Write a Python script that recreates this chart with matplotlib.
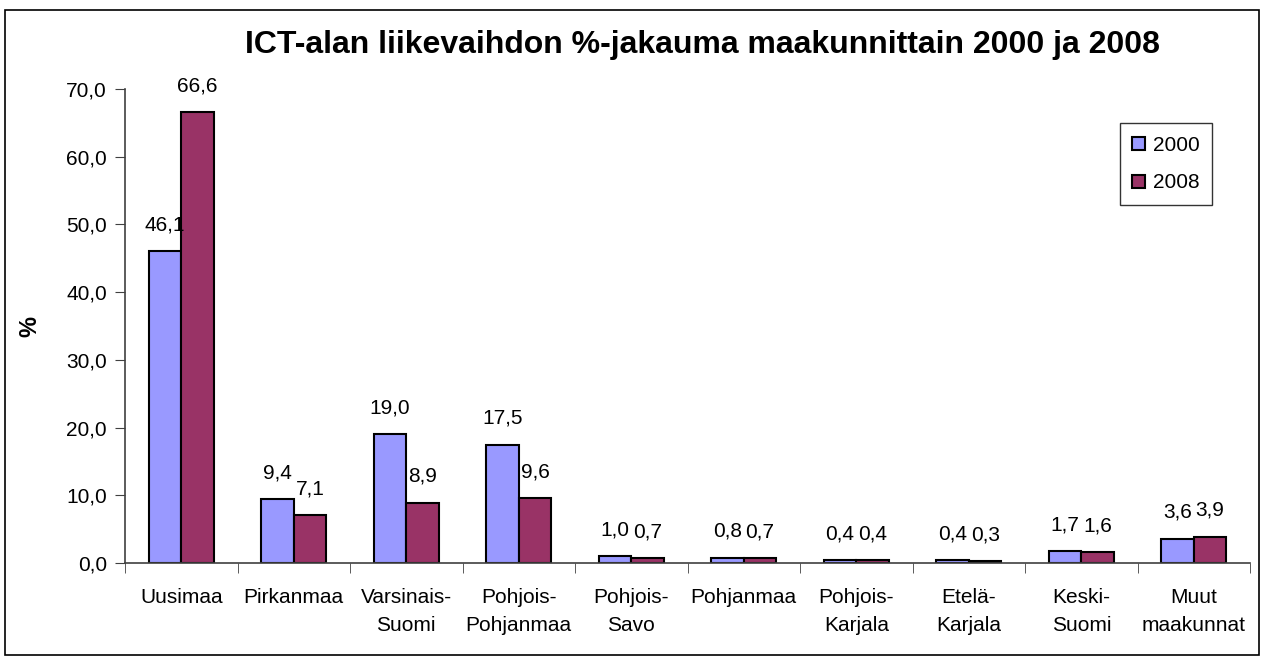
import numpy as np
import matplotlib
matplotlib.use('Agg')
from matplotlib import pyplot as plt
from matplotlib.patches import Rectangle

# data
regions = ['Uusimaa', 'Pirkanmaa', 'Varsinais-\nSuomi', 'Pohjois-\nPohjanmaa',
           'Pohjois-\nSavo', 'Pohjanmaa', 'Pohjois-\nKarjala', 'Etelä-\nKarjala',
           'Keski-\nSuomi', 'Muut\nmaakunnat']
share_2000 = [46.1, 9.4, 19.0, 17.5, 1.0, 0.8, 0.4, 0.4, 1.7, 3.6]
share_2008 = [66.6, 7.1, 8.9, 9.6, 0.7, 0.7, 0.4, 0.3, 1.6, 3.9]
years = ['2000', '2008']

plt.rcParams['font.family'] = ['Liberation Sans', 'DejaVu Sans']

fig = plt.figure(figsize=(12.64, 6.6), dpi=100, facecolor='w')
ax = fig.add_axes([0.0989, 0.147, 0.8901, 0.718])

x = np.arange(len(regions))
w = 0.29
axis_col = '#404040'
fs = 15

b1 = ax.bar(x - w / 2, share_2000, w, color='#9999FF', edgecolor='black', linewidth=1.5, label=years[0])
b2 = ax.bar(x + w / 2, share_2008, w, color='#993366', edgecolor='black', linewidth=1.5, label=years[1])

# value labels above the bars
for bars in (b1, b2):
	for r in bars:
		v = r.get_height()
		ax.annotate(('%.1f' % v).replace('.', ','), (r.get_x() + r.get_width() / 2, v),
			xytext=(0, 19), textcoords='offset points', ha='center', va='center', fontsize=fs)

ax.set_xlim(-0.5, len(regions) - 0.5)
ax.set_ylim(0, 70)
ax.set_yticks(np.arange(0, 71, 10))
ax.set_yticklabels([('%.1f' % t).replace('.', ',') for t in np.arange(0, 71, 10)], fontsize=fs)
ax.set_xticks(x)
ax.set_xticklabels(regions, fontsize=fs, linespacing=1.6)
ax.set_xticks(np.arange(-0.5, len(regions)), minor=True)
ax.tick_params(axis='x', which='major', length=0, pad=18)
ax.tick_params(axis='x', which='minor', length=7, color=axis_col)
ax.tick_params(axis='y', length=7, color=axis_col, pad=6)

for s in ['top', 'right']:
	ax.spines[s].set_visible(False)
for s in ['left', 'bottom']:
	ax.spines[s].set_color(axis_col)
	ax.spines[s].set_linewidth(1.2)

ax.set_ylabel('%', fontsize=17, fontweight='bold')
ax.yaxis.set_label_coords(-0.074, 0.5)

fig.text(0.556, 0.932, 'ICT-alan liikevaihdon %-jakauma maakunnittain 2000 ja 2008',
	ha='center', va='center', fontsize=23, fontweight='bold')

leg = ax.legend(loc='upper left', bbox_to_anchor=(0.884, 0.928), fontsize=fs, frameon=True,
	fancybox=False, edgecolor='black', handlelength=0.6, handleheight=0.6,
	handletextpad=0.4, labelspacing=0.9, borderpad=0.6, borderaxespad=0)
leg.get_frame().set_linewidth(1.0)

# outer chart border
fig.patches.append(Rectangle((0.004, 0.008), 0.992, 0.977, transform=fig.transFigure,
	fill=False, edgecolor='black', linewidth=1.2))

fig.savefig('out.png', dpi=100)
